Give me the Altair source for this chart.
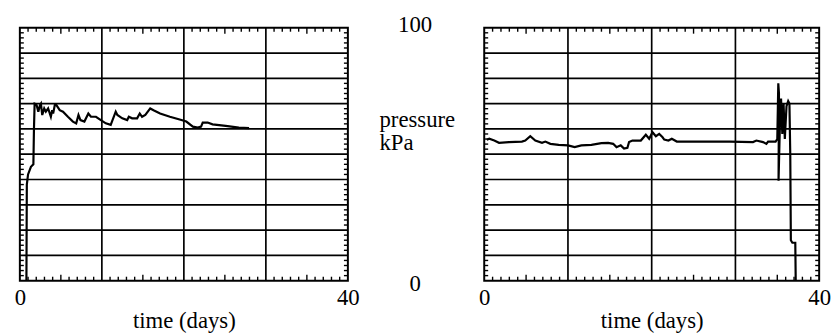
import altair as alt
import pandas as pd

FONT = "Liberation Serif"

# ---- data ----
left_days = [0.8, 0.85, 1.0, 1.35, 1.65, 1.72, 1.8, 1.95, 2.05, 2.25,
             2.45, 2.57, 2.73, 2.97, 3.17, 3.45, 3.78, 3.94, 4.06, 4.26,
             4.46, 4.86, 5.26, 5.86, 6.47, 6.87, 7.15, 7.39, 7.87, 8.35,
             8.67, 9.28, 9.88, 10.48, 11.08, 11.69, 11.89, 12.49, 13.09, 13.29,
             13.69, 14.3, 14.62, 14.9, 15.3, 15.9, 16.3, 17.1, 18.3, 19.7,
             20.3, 21.1, 21.7, 22.1, 22.3, 22.9, 23.5, 25.1, 26.7, 27.95]
left_kpa = [0, 38, 42, 45, 46, 60, 70, 69.8, 69.4, 66.8,
            69.4, 70, 65.5, 68.1, 66.8, 68.1, 64.8, 67.4, 66.1, 69.4,
            69.4, 67.4, 66.8, 64.8, 62.9, 62.2, 65.5, 63.5, 62.9, 66.1,
            64.8, 64.8, 63.5, 62.2, 61.6, 66.8, 65.5, 64.2, 63.5, 64.8,
            64.2, 64.2, 66.1, 64.8, 65.5, 68.1, 67.4, 66.1, 64.8, 63.5,
            62.9, 60.9, 60.5, 60.9, 62.5, 62.5, 61.8, 61.2, 60.5, 60.3]

right_days = [0.3, 0.6, 1.2, 1.77, 2.95, 4.5, 4.9, 5.5, 6.1, 6.9,
              7.3, 7.9, 8.9, 10.0, 10.8, 11.6, 12.8, 14.0, 14.8, 15.4,
              15.8, 16.3, 16.7, 17.1, 17.3, 17.7, 18.7, 19.3, 19.7, 20.1,
              20.5, 20.9, 21.3, 21.5, 22.0, 22.4, 23.0, 25.4, 29.3, 32.1,
              32.5, 33.3, 33.7, 33.9, 34.8, 35.0, 35.12, 35.2, 35.15, 35.3,
              35.45, 35.6, 35.75, 35.9, 36.1, 36.3, 36.45, 36.55, 36.62, 36.8,
              37.15, 37.2]
right_kpa = [55.7, 56.1, 55.4, 54.5, 54.8, 55.0, 55.4, 57.1, 55.4, 54.5,
             55.0, 54.1, 53.7, 53.5, 52.8, 53.5, 53.7, 54.4, 54.5, 54.1,
             52.8, 53.5, 52.2, 52.5, 54.8, 55.4, 55.4, 57.7, 56.1, 58.7,
             57.1, 58.0, 56.7, 55.8, 55.4, 56.1, 55.0, 55.0, 55.0, 54.8,
             55.4, 54.8, 54.1, 55.0, 55.0, 56.0, 78.0, 74.0, 39.5, 60.0,
             72.0, 58.0, 70.0, 56.0, 69.0, 71.0, 70.0, 50.0, 16.0, 15.0,
             15.0, 0.0]

# axis furniture
x_grid = [10, 20, 30]
y_grid = [10, 20, 30, 40, 50, 60, 70, 80, 90]
x_minor = [1, 2, 3, 4, 6, 7, 8, 9, 11, 12, 13, 14, 16, 17, 18, 19,
           21, 22, 23, 24, 26, 27, 28, 29, 31, 32, 33, 34, 36, 37, 38, 39]
x_mid = [5, 15, 25, 35]
y_minor = [2, 4, 6, 8, 12, 14, 16, 18, 22, 24, 26, 28, 32, 34, 36, 38,
           42, 44, 46, 48, 52, 54, 56, 58, 62, 64, 66, 68, 72, 74, 76, 78,
           82, 84, 86, 88, 92, 94, 96, 98]
x_labels = [0, 40]
top_label = ["100"]
bottom_label = ["0"]
unit_label = ["pressure", "kPa"]

H = 256
FS = 23
XS = alt.Scale(domain=[0, 40], nice=False, zero=False)
YS = alt.Scale(domain=[0, 100], nice=False, zero=False)
XAX = alt.Axis(values=x_labels, ticks=False, domain=False, grid=False,
               labelFont=FONT, labelFontSize=FS, labelColor="black",
               labelPadding=6, labelFlush=False, format="d",
               title="time (days)", titleFont=FONT, titleFontSize=FS,
               titleFontWeight="normal", titleColor="black", titlePadding=0)


def panel(days, kpa, W, with_mid_text=False):
    df = pd.DataFrame({"day": days, "kpa": kpa, "i": list(range(len(days)))})
    gx = pd.DataFrame({"gx": x_grid})
    gy = pd.DataFrame({"gy": y_grid})
    mx = pd.DataFrame({"tx": x_minor})
    mm = pd.DataFrame({"mx": x_mid})
    my = pd.DataFrame({"ty": y_minor})

    vgrid = alt.Chart(gx).mark_rule(color="black", strokeWidth=1.7).encode(
        x=alt.X("gx:Q", scale=XS, axis=XAX))
    hgrid = alt.Chart(gy).mark_rule(color="black", strokeWidth=1.7).encode(
        y=alt.Y("gy:Q", scale=YS, axis=None))

    def xticks(d, col, ln):
        b = alt.Chart(d).mark_rule(color="black", strokeWidth=1.4).encode(
            x=alt.X(f"{col}:Q", scale=XS, axis=XAX),
            y=alt.value(H - ln), y2=alt.value(H))
        t = alt.Chart(d).mark_rule(color="black", strokeWidth=1.4).encode(
            x=alt.X(f"{col}:Q", scale=XS, axis=XAX),
            y=alt.value(0), y2=alt.value(ln))
        return [b, t]

    yl = alt.Chart(my).mark_rule(color="black", strokeWidth=1.4).encode(
        y=alt.Y("ty:Q", scale=YS, axis=None), x=alt.value(0), x2=alt.value(4))
    yr = alt.Chart(my).mark_rule(color="black", strokeWidth=1.4).encode(
        y=alt.Y("ty:Q", scale=YS, axis=None), x=alt.value(W - 4), x2=alt.value(W))

    line = alt.Chart(df).mark_line(color="black", strokeWidth=2.2, strokeJoin="miter").encode(
        x=alt.X("day:Q", scale=XS, axis=XAX),
        y=alt.Y("kpa:Q", scale=YS, axis=None),
        order=alt.Order("i:Q"))

    layers = [vgrid, hgrid, line] + xticks(mx, "tx", 4) + xticks(mm, "mx", 6) + [yl, yr]

    if with_mid_text:
        t100 = alt.Chart(pd.DataFrame({"t": top_label})).mark_text(
            font=FONT, fontSize=FS, color="black", align="center", baseline="middle").encode(
            text="t:N", x=alt.value(W + 68), y=alt.value(-3))
        t0 = alt.Chart(pd.DataFrame({"t": bottom_label})).mark_text(
            font=FONT, fontSize=FS, color="black", align="center", baseline="middle").encode(
            text="t:N", x=alt.value(W + 68), y=alt.value(H + 3))
        tu = alt.Chart(pd.DataFrame({"u": [0]})).mark_text(
            text=unit_label, font=FONT, fontSize=FS, color="black", align="left",
            baseline="alphabetic", lineHeight=24).encode(
            x=alt.value(W + 32), y=alt.value(100))
        layers += [t100, t0, tu]

    return alt.layer(*layers).properties(width=W, height=H)


left = panel(left_days, left_kpa, 332, with_mid_text=True)
right = panel(right_days, right_kpa, 339)

chart = alt.hconcat(left, right, spacing=138, bounds="flush").properties(
    padding={"left": 5, "top": 3, "right": 0, "bottom": 0}
).configure(font=FONT, background="white",
            view=alt.ViewConfig(stroke="black", strokeWidth=2))

chart.save("out.html", embed_options={"renderer": "svg", "actions": False})
